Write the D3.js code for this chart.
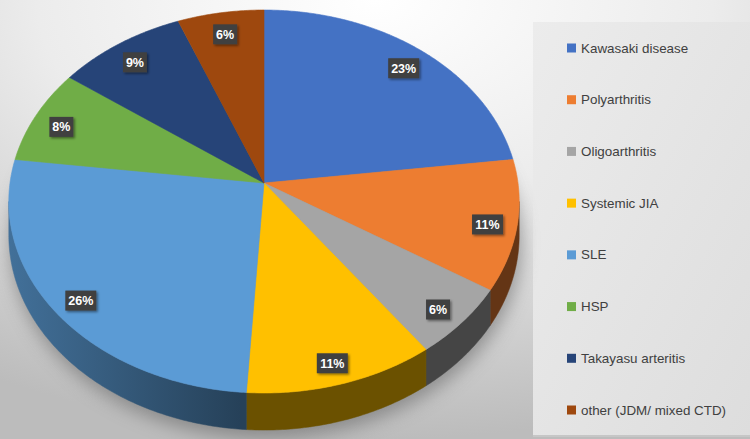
<!DOCTYPE html>
<html><head><meta charset="utf-8">
<script src="https://cdn.jsdelivr.net/npm/d3@7"></script>
<style>html,body{margin:0;padding:0;background:#fff;}svg{display:block;}</style>
</head><body>
<script>
// ---- data ----
const categories = ["Kawasaki disease","Polyarthritis","Oligoarthritis","Systemic JIA","SLE","HSP","Takayasu arteritis","other (JDM/ mixed CTD)"];
const values = [23, 11, 6, 11, 26, 8, 9, 6];
const valueLabels = ["23%","11%","6%","11%","26%","8%","9%","6%"];
const colors = ["#4472C4","#ED7D31","#A5A5A5","#FFC000","#5B9BD5","#70AD47","#264478","#9E480E"];

const W = 750, H = 439;
const svg = d3.select("body").append("svg").attr("width", W).attr("height", H);
const defs = svg.append("defs");

// background
const bg = defs.append("radialGradient").attr("id","bg").attr("cx","0.5").attr("cy","0").attr("r","1");
bg.append("stop").attr("offset","0").attr("stop-color","#ffffff");
bg.append("stop").attr("offset","0.45").attr("stop-color","#ececec");
bg.append("stop").attr("offset","1").attr("stop-color","#bcbcbc");
svg.append("rect").attr("width",W).attr("height",H).attr("fill","url(#bg)");

// legend panel
const lg = defs.append("linearGradient").attr("id","lg").attr("x1","0").attr("y1","0").attr("x2","1").attr("y2","1");
lg.append("stop").attr("offset","0").attr("stop-color","#ececec");
lg.append("stop").attr("offset","1").attr("stop-color","#dddddd");
svg.append("rect").attr("x",533).attr("y",22).attr("width",W-533).attr("height",414).attr("fill","url(#lg)");
svg.append("line").attr("x1",533).attr("x2",W).attr("y1",436).attr("y2",436).attr("stroke","#c6c6c6").attr("stroke-width",2);

// projection of the tilted pie
const cx = 264, cy = 183, A = 254, B = 189.7, k = 0.0966, D = 33.5;
function proj(theta, r, dz) {
  const u = r * Math.sin(theta), v = -r * Math.cos(theta);
  const w = 1 - k * v;
  return [cx + A * u / w, cy + B * v / w + (dz || 0) / w];
}
function arcPts(a0, a1, r, dz) {
  const n = Math.max(2, Math.ceil(Math.abs(a1 - a0) / 0.01));
  const pts = [];
  for (let i = 0; i <= n; i++) pts.push(proj(a0 + (a1 - a0) * i / n, r, dz));
  return pts;
}
const line = d3.line();

const pie = d3.pie().sort(null).value(d => d)(values);
const color = d3.scaleOrdinal().domain(categories).range(colors);

// shadow
const sh = defs.append("filter").attr("id","sh").attr("x","-20%").attr("y","-20%").attr("width","140%").attr("height","140%");
sh.append("feGaussianBlur").attr("stdDeviation", 9);
const full = arcPts(0, 2 * Math.PI, 1, D);
svg.append("path").attr("d", line(full) + "Z").attr("fill","#666666").attr("opacity",0.6)
  .attr("transform","translate(2,8)").attr("filter","url(#sh)");

// sides
const sil0 = Math.acos(-k), sil1 = 2 * Math.PI - Math.acos(-k);
pie.forEach((d, i) => {
  const a0 = Math.max(d.startAngle, sil0), a1 = Math.min(d.endAngle, sil1);
  if (a1 <= a0) return;
  const c = d3.rgb(color(categories[i]));
  const gid = "side" + i;
  const g = defs.append("linearGradient").attr("id", gid).attr("gradientUnits","userSpaceOnUse")
    .attr("x1", 10).attr("y1", 0).attr("x2", 240).attr("y2", 0);
  const f = (c, m) => d3.rgb(c.r * m, c.g * m, c.b * m).toString();
  g.append("stop").attr("offset", 0).attr("stop-color", f(c, 0.72));
  g.append("stop").attr("offset", 1).attr("stop-color", f(c, 0.42));
  const top = arcPts(a0, a1, 1, 0);
  const bot = arcPts(a1, a0, 1, D);
  svg.append("path").attr("d", line(top.concat(bot)) + "Z").attr("fill", `url(#${gid})`)
    .attr("stroke", `url(#${gid})`).attr("stroke-width", 0.5);
});

// top faces
pie.forEach((d, i) => {
  const pts = [proj(0, 0, 0)].concat(arcPts(d.startAngle, d.endAngle, 1, 0));
  svg.append("path").attr("d", line(pts) + "Z").attr("fill", color(categories[i]))
    .attr("stroke", color(categories[i])).attr("stroke-width", 0.6);
});

// data labels
const ls = defs.append("filter").attr("id","ls").attr("x","-30%").attr("y","-30%").attr("width","170%").attr("height","170%");
ls.append("feDropShadow").attr("dx",1.5).attr("dy",1.5).attr("stdDeviation",1.2).attr("flood-color","#000").attr("flood-opacity",0.45);
pie.forEach((d, i) => {
  const mid = (d.startAngle + d.endAngle) / 2;
  const p = proj(mid, 0.885, 7);
  const txt = valueLabels[i];
  const bw = txt.length === 3 ? 31 : 24, bh = 20;
  svg.append("rect").attr("x", p[0] - bw / 2).attr("y", p[1] - 3 - bh / 2).attr("width", bw).attr("height", bh)
    .attr("fill", "#404040").attr("filter","url(#ls)");
  svg.append("text").attr("x", p[0]).attr("y", p[1] - 3 + 4.5).attr("text-anchor","middle")
    .attr("font-family","Liberation Sans, Arial, sans-serif").attr("font-weight","bold").attr("font-size",12.5)
    .attr("fill","#ffffff").text(txt);
});

// legend
const ly = d3.scalePoint().domain(categories).range([48, 410]);
categories.forEach((c, i) => {
  const y = ly(c);
  svg.append("rect").attr("x", 567).attr("y", y - 4.5).attr("width", 9).attr("height", 9).attr("fill", color(c));
  svg.append("text").attr("x", 581).attr("y", y + 4.5)
    .attr("font-family","Liberation Sans, Arial, sans-serif").attr("font-size",13.4).attr("fill","#404040").text(c);
});
</script>
</body></html>
